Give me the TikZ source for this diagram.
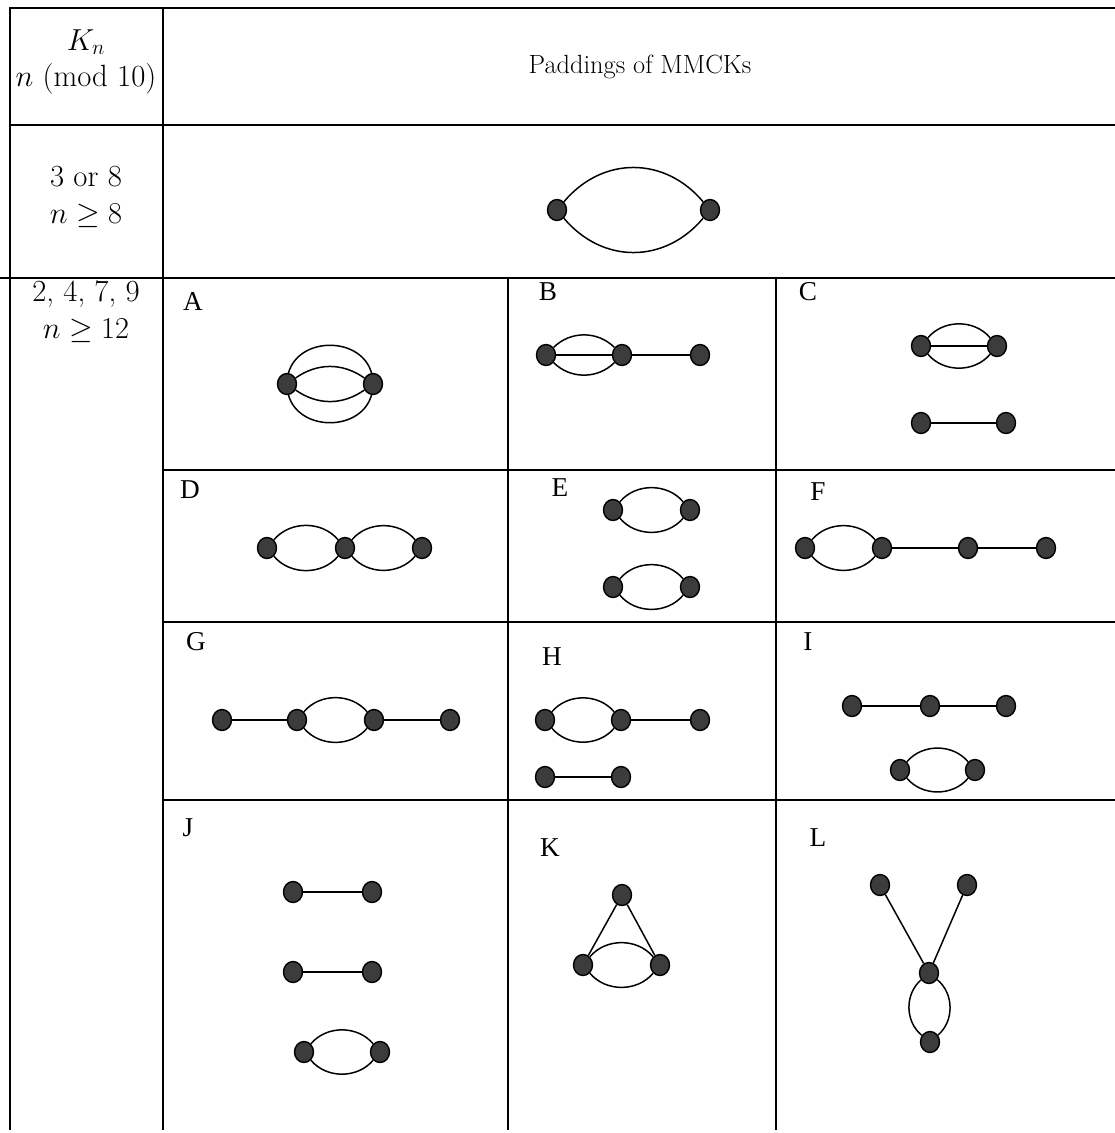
\documentclass[tikz,border=0pt]{standalone}
\usepackage{amsmath,amssymb}
\usepackage{fontspec}
\newfontfamily\tagfont{Liberation Serif}
\usetikzlibrary{calc,positioning,shapes.geometric,backgrounds}
\definecolor{dotGray}{RGB}{60,60,60}

\begin{document}
\begin{tikzpicture}[x=0.02cm,y=-0.02cm,
  rule/.style={line width=1.1pt},
  vtx/.style={ellipse,draw=black,fill=dotGray,line width=.8pt,inner sep=0pt,minimum width=.38cm,minimum height=.42cm},
  lnk/.style={line width=.85pt},
  celltag/.style={font=\tagfont\fontsize{15.5}{18}\selectfont},
  rowtxt/.style={align=center,font=\fontsize{17.5}{21}\selectfont}]
\useasboundingbox (0,0) rectangle (1115,1133);

% table rules
\draw[rule] (10,1130) -- (10,8) -- (1115,8);
\draw[rule] (163,8) -- (163,1130);
\draw[rule] (10,125) -- (1115,125);
\draw[rule] (0,278) -- (1115,278);
\foreach \y in {470,622,800} \draw[rule] (163,\y) -- (1115,\y);
\foreach \x in {508,776} \draw[rule] (\x,278) -- (\x,1130);

% left column and heading
\node[rowtxt] (kn) at (86,62) {$K_n$\\$n$ (mod 10)};
\node[rowtxt,font=\fontsize{15}{18}\selectfont] (pad) at (640,67) {Paddings of MMCKs};
\node[rowtxt] (r38) at (86,197) {3 or 8\\$n\geq 8$};
\node[rowtxt] (r2479) at (86,312) {2, 4, 7, 9\\$n\geq 12$};

% 3 or 8
\node[vtx] (p1) at (557,210) {};
\node[vtx] (p2) at (710,210) {};
\foreach \b in {50,-50} \draw[lnk] (p1) to[bend left=\b,looseness=1.1] (p2);

% A
\node[celltag] (ta) at (193,302) {A};
\node[vtx] (a1) at (287,384) {};
\node[vtx] (a2) at (373,384) {};
\begin{scope}[on background layer]
\foreach \b in {90,-90} \draw[lnk] (a1.center) to[bend left=\b,looseness=1.54] (a2.center);
\end{scope}
\foreach \b in {35,-35} \draw[lnk] (a1) to[bend left=\b] (a2);

% B
\node[celltag] (tb) at (548,292) {B};
\node[vtx] (b1) at (546,355) {};
\node[vtx] (b2) at (622,355) {};
\node[vtx] (b3) at (700,355) {};
\foreach \b in {45,-45} \draw[lnk] (b1) to[bend left=\b] (b2);
\draw[lnk] (b1) -- (b2) -- (b3);

% C
\node[celltag] (tc) at (808,292) {C};
\node[vtx] (c1) at (921,346) {};
\node[vtx] (c2) at (997,346) {};
\node[vtx] (c3) at (921,423) {};
\node[vtx] (c4) at (1006,423) {};
\foreach \b in {50,-50} \draw[lnk] (c1) to[bend left=\b] (c2);
\draw[lnk] (c1) -- (c2);
\draw[lnk] (c3) -- (c4);

% D
\node[celltag] (td) at (190,490) {D};
\node[vtx] (d1) at (267,548) {};
\node[vtx] (d2) at (345,548) {};
\node[vtx] (d3) at (422,548) {};
\foreach \b in {50,-50} \draw[lnk] (d1) to[bend left=\b] (d2) (d2) to[bend left=\b] (d3);

% E
\node[celltag] (te) at (560,488) {E};
\node[vtx] (e1) at (613,510) {};
\node[vtx] (e2) at (690,510) {};
\node[vtx] (e3) at (613,587) {};
\node[vtx] (e4) at (690,587) {};
\foreach \b in {50,-50} \draw[lnk] (e1) to[bend left=\b] (e2) (e3) to[bend left=\b] (e4);

% F
\node[celltag] (tf) at (818,492) {F};
\node[vtx] (f1) at (805,548) {};
\node[vtx] (f2) at (882,548) {};
\node[vtx] (f3) at (968,548) {};
\node[vtx] (f4) at (1046,548) {};
\foreach \b in {50,-50} \draw[lnk] (f1) to[bend left=\b] (f2);
\draw[lnk] (f2) -- (f3) -- (f4);

% G
\node[celltag] (tg) at (196,642) {G};
\node[vtx] (g1) at (222,720) {};
\node[vtx] (g2) at (297,720) {};
\node[vtx] (g3) at (374,720) {};
\node[vtx] (g4) at (450,720) {};
\foreach \b in {50,-50} \draw[lnk] (g2) to[bend left=\b] (g3);
\draw[lnk] (g1) -- (g2) (g3) -- (g4);

% H
\node[celltag] (th) at (552,657) {H};
\node[vtx] (h1) at (545,720) {};
\node[vtx] (h2) at (621,720) {};
\node[vtx] (h3) at (700,720) {};
\node[vtx] (h4) at (545,777) {};
\node[vtx] (h5) at (621,777) {};
\foreach \b in {50,-50} \draw[lnk] (h1) to[bend left=\b] (h2);
\draw[lnk] (h2) -- (h3) (h4) -- (h5);

% I
\node[celltag] (ti) at (808,642) {I};
\node[vtx] (i1) at (852,706) {};
\node[vtx] (i2) at (930,706) {};
\node[vtx] (i3) at (1006,706) {};
\node[vtx] (i4) at (900,770) {};
\node[vtx] (i5) at (975,770) {};
\draw[lnk] (i1) -- (i2) -- (i3);
\foreach \b in {50,-50} \draw[lnk] (i4) to[bend left=\b] (i5);

% J
\node[celltag] (tj) at (188,828) {J};
\node[vtx] (j1) at (293,892) {};
\node[vtx] (j2) at (372,892) {};
\node[vtx] (j3) at (293,972) {};
\node[vtx] (j4) at (372,972) {};
\node[vtx] (j5) at (304,1052) {};
\node[vtx] (j6) at (380,1052) {};
\draw[lnk] (j1) -- (j2) (j3) -- (j4);
\foreach \b in {50,-50} \draw[lnk] (j5) to[bend left=\b] (j6);

% K
\node[celltag] (tk) at (550,848) {K};
\node[vtx] (k1) at (622,895) {};
\node[vtx] (k2) at (583,965) {};
\node[vtx] (k3) at (660,965) {};
\draw[lnk] (k2) -- (k1) -- (k3);
\foreach \b in {50,-50} \draw[lnk] (k2) to[bend left=\b] (k3);

% L
\node[celltag] (tl) at (818,838) {L};
\node[vtx] (l1) at (880,885) {};
\node[vtx] (l2) at (967,885) {};
\node[vtx] (l3) at (929,973) {};
\node[vtx] (l4) at (930,1042) {};
\draw[lnk] (l1) -- (l3) -- (l2);
\foreach \b in {50,-50} \draw[lnk] (l3) to[bend left=\b] (l4);
\end{tikzpicture}
\end{document}
